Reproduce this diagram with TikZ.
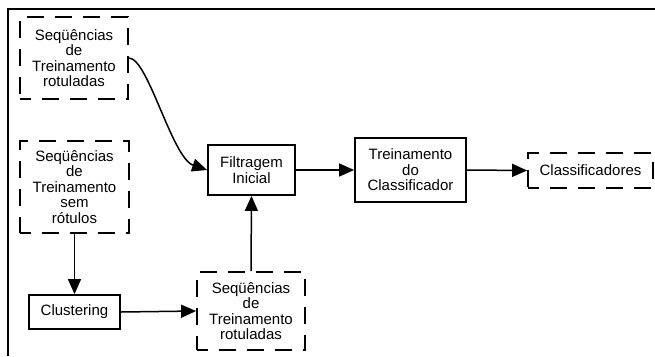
\documentclass[tikz,border=0pt]{standalone}
\usepackage{fontspec}
\setmainfont{Liberation Sans}
\usepackage{tikz}
\usetikzlibrary{arrows.meta}

\begin{document}
\begin{tikzpicture}[x=1pt, y=-1pt, font=\fontsize{15}{15.5}\selectfont]
    % Styles
    \tikzstyle{box} = [rectangle, draw, line width=1.8pt, align=center, inner sep=0pt]
    \tikzstyle{dbox} = [box, dash pattern=on 17pt off 11pt, dash phase=6pt]
    \tikzstyle{arrow} = [line width=1.5pt, -{Triangle[length=15pt, width=13pt]}]

    \useasboundingbox (0,0) rectangle (655,356);
    \draw[line width=1.2pt] (8,356) -- (8,9) -- (655,9);

    % Nodes
    \node[dbox, minimum width=108pt, minimum height=82pt] (lab1) at (74,58)
        {Seqüências\\de\\Treinamento\\rotuladas};
    \node[dbox, minimum width=109pt, minimum height=92pt] (unlab) at (74.5,187)
        {Seqüências\\de\\Treinamento\\sem\\rótulos};
    \node[box, minimum width=91pt, minimum height=34pt] (clust) at (74.5,312) {Clustering};
    \node[dbox, minimum width=108pt, minimum height=78pt] (lab2) at (251,311)
        {Seqüências\\de\\Treinamento\\rotuladas};
    \node[box, minimum width=87pt, minimum height=50pt] (filt) at (251.5,170)
        {Filtragem\\Inicial};
    \node[box, minimum width=111pt, minimum height=64pt] (train) at (410.5,170)
        {Treinamento\\do\\Classificador};
    \node[dbox, minimum width=125pt, minimum height=35pt] (cls) at (590.5,170.5)
        {Classificadores};

    % Arrows
    \draw[arrow] (lab1.east) .. controls (148,58) and (172,158) .. (filt.west);
    \draw[arrow] (unlab.south) -- (clust.north);
    \draw[arrow] (clust.east) -- (lab2.west);
    \draw[arrow] (lab2.north) -- (filt.south);
    \draw[arrow] (filt.east) -- (train.west);
    \draw[arrow] (train.east) -- (cls.west);

\end{tikzpicture}
\end{document}
